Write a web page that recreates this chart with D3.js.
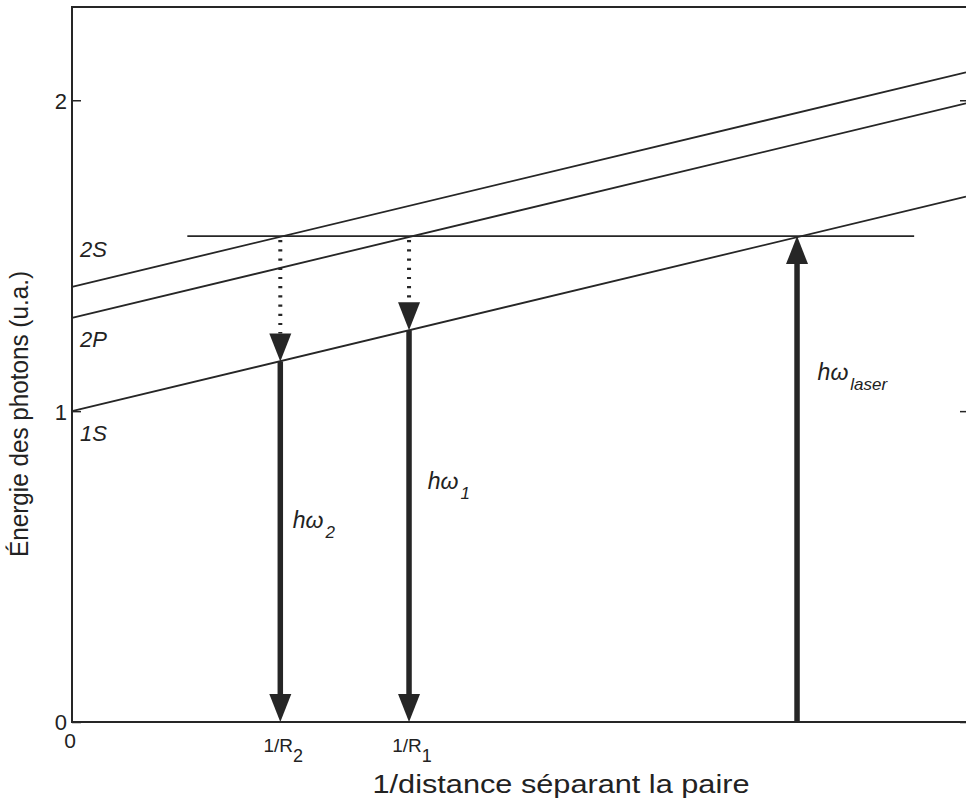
<!DOCTYPE html>
<html>
<head>
<meta charset="utf-8">
<script src="https://cdn.jsdelivr.net/npm/d3@7"></script>
<style>
  html, body { margin: 0; padding: 0; background: #fff; }
  svg text { font-family: "Liberation Sans", Arial, sans-serif; fill: #222; }
</style>
</head>
<body>
<div id="chart"></div>
<script>
// energy levels (straight lines), value at x = 0 and at x = 1
const levelNames = ["1S", "2P", "2S"];
const levelStart = [1.00, 1.30, 1.40];
const levelEnd = [1.69, 1.99, 2.09];
const levelLabelY = [0.905, 1.205, 1.495];

// laser photon energy (horizontal line)
const laserEnergy = 1.563;
const laserSpan = [0.129, 0.942];

// dotted transitions (non radiative) then radiative photons
const dottedX = [0.233, 0.377];
const dottedFrom = [1.563, 1.563];
const dottedTo = [1.16, 1.26];

const photonNames = ["2", "1", "laser"];
const photonX = [0.233, 0.377, 0.811];
const photonFrom = [1.16, 1.26, 0];
const photonTo = [0, 0, 1.563];
const photonLabelX = [0.247, 0.398, 0.834];
const photonLabelY = [0.624, 0.749, 1.10];

// axis ticks
const yTicks = [0, 1, 2];
const xTickValues = [0, 0.233, 0.377];
const xTickMain = ["0", "1/R", "1/R"];
const xTickSub = ["", "2", "1"];

const W = 966, H = 805;
const margin = { top: 7, right: -2, bottom: 83, left: 72 };

const svg = d3.select("#chart").append("svg")
    .attr("width", W)
    .attr("height", H);

const x = d3.scaleLinear().domain([0, 1]).range([margin.left, W - margin.right - 2]);
const y = d3.scaleLinear().domain([0, 2.3]).range([H - margin.bottom, margin.top]);

const ink = "#262626";

// frame + axes
const yAxis = d3.axisLeft(y).tickValues(yTicks).tickSize(-9).tickSizeOuter(0).tickPadding(5)
    .tickFormat(d3.format("d"));
const gy = svg.append("g").attr("transform", `translate(${x(0)},0)`).call(yAxis)
    .attr("font-size", 22);
gy.select(".domain").remove();
gy.selectAll("line").attr("stroke", ink).attr("stroke-width", 1.5);
gy.selectAll("text").attr("font-size", 22).attr("fill", ink).attr("dy", "0.36em");

const gyr = svg.append("g").attr("transform", `translate(${x(1) + 2},0)`)
    .call(d3.axisRight(y).tickValues(yTicks).tickSize(-8).tickSizeOuter(0).tickFormat(""));
gyr.select(".domain").remove();
gyr.selectAll("line").attr("stroke", ink).attr("stroke-width", 1.5);

svg.append("path")
    .attr("d", `M${x(1) + 4},${y(2.3)}H${x(0)}V${y(0)}H${x(1) + 4}`)
    .attr("fill", "none")
    .attr("stroke", ink)
    .attr("stroke-width", 2);

// x tick labels (custom, with subscripts)
const xt = svg.append("g").selectAll("text")
    .data(xTickValues)
    .join("text")
    .attr("x", (d, i) => i === 0 ? x(d) - 2 : x(d) + 3)
    .attr("y", (d, i) => i === 0 ? y(0) + 26 : y(0) + 30)
    .attr("text-anchor", "middle")
    .attr("font-size", (d, i) => i === 0 ? 21 : 19);
xt.append("tspan").text((d, i) => xTickMain[i]);
xt.append("tspan")
    .attr("dy", 10)
    .attr("font-size", 18)
    .text((d, i) => xTickSub[i]);

// axis titles
svg.append("text")
    .attr("x", 561)
    .attr("y", 793)
    .attr("text-anchor", "middle")
    .attr("textLength", 377)
    .attr("lengthAdjust", "spacingAndGlyphs")
    .attr("font-size", 25)
    .text("1/distance séparant la paire");

svg.append("text")
    .attr("transform", `translate(28,${414}) rotate(-90)`)
    .attr("text-anchor", "middle")
    .attr("textLength", 286)
    .attr("lengthAdjust", "spacingAndGlyphs")
    .attr("font-size", 25)
    .text("Énergie des photons (u.a.)");

// energy levels
svg.append("g").selectAll("line")
    .data(levelNames)
    .join("line")
    .attr("x1", x(0))
    .attr("y1", (d, i) => y(levelStart[i]))
    .attr("x2", x(1))
    .attr("y2", (d, i) => y(levelEnd[i]))
    .attr("stroke", ink)
    .attr("stroke-width", 1.8);

svg.append("g").selectAll("text")
    .data(levelNames)
    .join("text")
    .attr("x", x(0) + 8)
    .attr("y", (d, i) => y(levelLabelY[i]))
    .attr("font-size", 22)
    .style("font-style", "italic")
    .text(d => d);

// laser energy line
svg.append("line")
    .attr("x1", x(laserSpan[0]))
    .attr("x2", x(laserSpan[1]))
    .attr("y1", y(laserEnergy))
    .attr("y2", y(laserEnergy))
    .attr("stroke", ink)
    .attr("stroke-width", 1.8);

// arrow helper: shaft from (px, ya) to (px, yb) with a head at yb
const headLen = 28, headHalf = 11;
function arrow(g, px, ya, yb, dotted) {
    const dir = yb > ya ? 1 : -1;
    const base = yb - dir * headLen;
    g.append("line")
        .attr("x1", px).attr("x2", px)
        .attr("y1", ya).attr("y2", base)
        .attr("stroke", ink)
        .attr("stroke-width", dotted ? 4 : 5.5)
        .attr("stroke-dasharray", dotted ? "2.2,7" : null);
    g.append("path")
        .attr("d", `M${px - headHalf},${base}L${px + headHalf},${base}L${px},${yb}Z`)
        .attr("fill", ink);
}

const arrows = svg.append("g");
dottedX.forEach((d, i) => {
    arrow(arrows, x(d), y(dottedFrom[i]) + 4, y(dottedTo[i]), true);
});
photonX.forEach((d, i) => {
    arrow(arrows, x(d), y(photonFrom[i]), y(photonTo[i]), false);
});

// photon labels  hω_n
const pl = svg.append("g").selectAll("text")
    .data(photonNames)
    .join("text")
    .attr("x", (d, i) => x(photonLabelX[i]))
    .attr("y", (d, i) => y(photonLabelY[i]))
    .style("font-style", "italic")
    .attr("font-size", 23);
pl.append("tspan").text("hω");
pl.append("tspan")
    .attr("dy", 10)
    .attr("dx", 2)
    .attr("font-size", 17)
    .text(d => d);
</script>
</body>
</html>
